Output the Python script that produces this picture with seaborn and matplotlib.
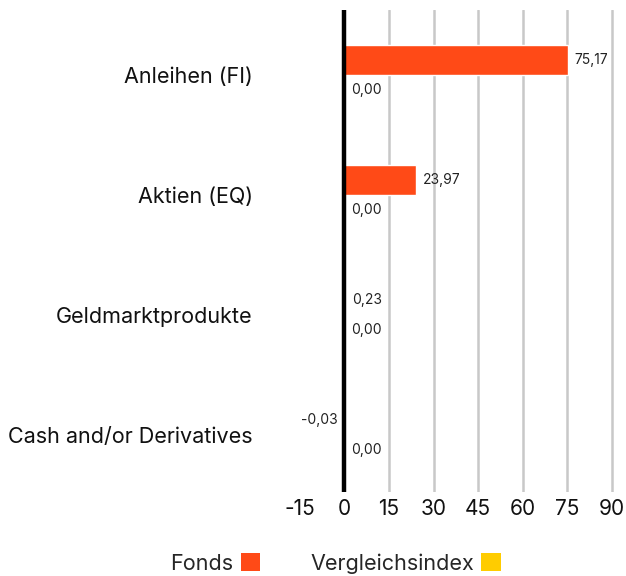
import matplotlib
matplotlib.use("Agg")
import matplotlib.pyplot as plt
import seaborn as sns
import pandas as pd
from matplotlib.patches import Patch

categories = ["Anleihen (FI)", "Aktien (EQ)", "Geldmarktprodukte", "Cash and/or Derivatives"]
fonds = [75.17, 23.97, 0.23, -0.03]
index_vals = [0.00, 0.00, 0.00, 0.00]
series_names = ["Fonds", "Vergleichsindex"]
x_ticks = [-15, 0, 15, 30, 45, 60, 75, 90]

colors = ["#FF4A17", "#FFCC00"]

df = pd.DataFrame({
    "cat": categories * 2,
    "val": fonds + index_vals,
    "series": [series_names[0]] * len(categories) + [series_names[1]] * len(categories),
})

sns.set_theme(style="white")
plt.rcParams["font.family"] = ["Inter", "DejaVu Sans"]
plt.rcParams["axes.unicode_minus"] = False

fig = plt.figure(figsize=(6.26, 5.76), dpi=100)
ax = fig.add_axes([0.479, 0.1458, 0.503, 0.837])

sns.barplot(data=df, y="cat", x="val", hue="series", orient="h",
            palette=colors, width=0.5, dodge=True, ax=ax, legend=False,
            saturation=1, errorbar=None)

for t in x_ticks:
    if t > 0:
        ax.axvline(t, color="#C8C8C8", lw=1.8, zorder=0)
ax.axvline(0, color="black", lw=3.2, zorder=5)

def fmt(v):
    return f"{v:.2f}".replace(".", ",")

for cont, vals in zip(ax.containers, [fonds, index_vals]):
    ax.bar_label(cont, labels=[fmt(v) for v in vals], padding=5, fontsize=10, color="#222222")

ax.set_xlim(-15, 91)
ax.set_ylim(3.475, -0.54)
ax.set_xticks(x_ticks)
ax.set_xticklabels([str(t) for t in x_ticks], fontsize=15, color="#111111")
ax.tick_params(axis="y", labelsize=15.5, colors="#111111", length=0, pad=34)
ax.tick_params(axis="x", length=0, pad=5)
ax.set_xlabel("")
ax.set_ylabel("")
for s in ax.spines.values():
    s.set_visible(False)

handles = [Patch(facecolor=c, edgecolor="none") for c in colors]
fig.legend(handles, series_names, loc="center", bbox_to_anchor=(0.536, 0.022),
           ncol=2, frameon=False, markerfirst=False, fontsize=15.5,
           handlelength=0.9, handleheight=0.9, handletextpad=0.35, columnspacing=2.3)

fig.savefig("out.png", dpi=100)
